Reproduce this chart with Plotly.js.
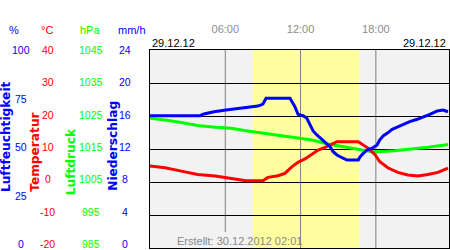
<!DOCTYPE html>
<html>
<head>
<meta charset="utf-8">
<script src="https://cdn.plot.ly/plotly-3.0.1.min.js"></script>
<style>html,body{margin:0;padding:0;background:#fff;}#chart{width:450px;height:250px;}</style>
</head>
<body>
<div id="chart"></div>
<script>
// ---- data (hours of 29.12.12) ----
var humHours = [0,3.98,4.3,5.1,6.06,7.17,7.97,8.6,9.0,9.25,11.16,11.3,11.55,11.8,12.2,12.5,12.75,13.0,13.3,13.55,13.95,14.35,14.6,14.9,15.3,15.7,16.6,16.75,17.0,17.3,17.7,18.1,18.3,18.6,18.9,19.3,19.7,20.2,20.7,21.3,21.75,22.3,22.9,23.35,23.75];
var humidity = [66.8,66.8,67.7,68.8,69.7,70.6,71.4,71.7,72.7,75.6,75.6,74.2,71.4,67.5,66.8,65.5,62.1,59.1,57.1,55.7,53.4,51.2,48.6,47.0,45.6,44.4,44.4,46.1,47.8,49.5,50.4,52.0,54.5,56.7,57.9,59.9,61.0,62.5,63.8,65.0,66.3,67.5,69.2,69.7,68.8];

var presHours = [0,1.2,2.5,3.8,5.2,6.45,7.65,8.9,10.2,11.55,12.9,14.2,15.55,16.9,17.7,18.2,19.5,20.9,22.15,23.5,23.75];
var pressure = [1024.3,1023.8,1023.0,1022.1,1021.6,1021.3,1020.5,1019.8,1019.2,1018.4,1017.7,1016.5,1015.5,1014.7,1014.2,1014.2,1014.5,1015.0,1015.5,1016.2,1016.4];

var tempHours = [0,1.2,2.5,3.8,5.2,6.45,7.65,9.0,9.4,10.2,10.75,11.3,11.8,12.35,12.9,13.4,13.95,14.5,14.9,16.6,17.0,17.4,17.95,18.3,18.95,19.75,20.55,21.35,22.15,22.95,23.75];
var temperature = [4.85,4.3,3.3,2.3,1.8,1.1,0.4,0.4,1.4,1.9,2.6,4.6,6.0,7.0,8.5,9.7,10.5,11.4,12.2,12.2,11.2,10.2,8.2,6.2,4.3,2.9,2.1,1.8,2.3,2.9,4.2];

var daylight = [8.2, 16.7];
var xTickVals = [6, 12, 18];
var xTickText = ['06:00', '12:00', '18:00'];
var humTicks = [0, 25, 50, 75, 100];
var tempTicks = [-20, -10, 0, 10, 20, 30, 40];
var presTicks = [985, 995, 1005, 1015, 1025, 1035, 1045];
var precTicks = [0, 4, 8, 12, 16, 20, 24];
var dateLeft = '29.12.12', dateRight = '29.12.12';
var created = 'Erstellt: 30.12.2012 02:01';

// ---- layout helpers ----
var W = 449;
function px(x) { return x / W; }
function py(y) { return (248 - y) / 198; }
var FONT = 'Liberation Sans, Arial, sans-serif';
var BLUE = '#0000ff', RED = '#ff0000', GREEN = '#00ff00';

var annotations = [];
function tickCol(vals, yref, xpx, color, lo, hi) {
  vals.forEach(function (v) {
    annotations.push({
      text: String(v), xref: 'paper', yref: yref, x: px(xpx), y: v,
      xanchor: 'center', yanchor: 'middle', showarrow: false,
      yshift: (1 - (v - lo) / (hi - lo)) * 4,
      font: {family: FONT, size: 10.5, color: color}
    });
  });
}
tickCol(presTicks, 'y', 91, GREEN, 985, 1045);
tickCol(tempTicks, 'y2', 47.5, RED, -20, 40);
tickCol(humTicks, 'y3', 20.5, BLUE, 0, 100);
tickCol(precTicks, 'y4', 124.5, BLUE, 0, 24);

function plab(text, xpx, ypx, color, opts) {
  var a = {text: text, xref: 'paper', yref: 'paper', x: px(xpx), y: py(ypx),
    xanchor: 'center', yanchor: 'middle', showarrow: false,
    font: {family: FONT, size: 11, color: color}};
  for (var k in opts) a[k] = opts[k];
  annotations.push(a);
}
plab('%', 14, 30, BLUE, {});
plab('°C', 47, 30, RED, {});
plab('hPa', 90, 30, GREEN, {});
plab('mm/h', 132, 30, BLUE, {});
var TF = {family: 'DejaVu Sans, sans-serif', size: 12.2};
plab('<b>Luftfeuchtigkeit</b>', 5.6, 136.5, BLUE, {textangle: -90, font: Object.assign({}, TF, {color: BLUE})});
plab('<b>Temperatur</b>', 34.8, 152, RED, {textangle: -90, font: Object.assign({}, TF, {color: RED})});
plab('<b>Luftdruck</b>', 71.2, 162, GREEN, {textangle: -90, font: Object.assign({}, TF, {color: GREEN})});
plab('<b>Niederschlag</b>', 112.8, 146, BLUE, {textangle: -90, font: Object.assign({}, TF, {color: BLUE})});
plab(dateLeft, 150, 43, '#000', {xanchor: 'left', x: px(149.5)});
plab(dateRight, 447, 43, '#000', {xanchor: 'right', x: px(447.5)});
plab(created, 175, 241, '#888888', {xanchor: 'left', x: px(174.5)});

var traces = [
  {x: presHours, y: pressure, yaxis: 'y', mode: 'lines', line: {color: GREEN, width: 3}, hoverinfo: 'skip'},
  {x: tempHours, y: temperature, yaxis: 'y2', mode: 'lines', line: {color: RED, width: 3}, hoverinfo: 'skip'},
  {x: humHours, y: humidity, yaxis: 'y3', mode: 'lines', line: {color: BLUE, width: 3}, hoverinfo: 'skip'}
];

// vertical hour lines (the 06:00 one stops above the "Erstellt" note)
var shapes = [{type: 'rect', xref: 'x', yref: 'paper', x0: daylight[0], x1: daylight[1], y0: 0, y1: 1,
  fillcolor: '#ffffa0', line: {width: 0}, layer: 'below'}];
xTickVals.forEach(function (t, i) {
  shapes.push({type: 'line', xref: 'x', yref: 'paper', x0: t, x1: t, y0: i === 0 ? py(232) : 0, y1: 1,
    line: {color: '#808080', width: 1}, layer: 'below'});
});

var hidden = {overlaying: 'y', showgrid: false, zeroline: false, showticklabels: false, ticks: '', showline: false};
var layout = {
  width: 450, height: 250,
  margin: {l: 0, r: 1, t: 50, b: 2, pad: 0},
  paper_bgcolor: '#ffffff', plot_bgcolor: '#f2f2f2',
  showlegend: false,
  xaxis: {domain: [150 / W, 1], range: [0, 23.83], side: 'top',
    tickvals: xTickVals, ticktext: xTickText, ticks: '', ticklabelstandoff: 12,
    tickfont: {family: FONT, size: 11, color: '#8c8c8c'},
    showgrid: false, zeroline: false,
    showline: true, mirror: true, linecolor: '#000', linewidth: 1},
  yaxis: {range: [985, 1045], dtick: 10, tick0: 985, showticklabels: false, ticks: '',
    showgrid: true, gridcolor: '#000', gridwidth: 1, zeroline: false,
    showline: true, mirror: true, linecolor: '#000', linewidth: 1},
  yaxis2: Object.assign({range: [-20, 40]}, hidden),
  yaxis3: Object.assign({range: [0, 100]}, hidden),
  yaxis4: Object.assign({range: [0, 24]}, hidden),
  shapes: shapes,
  annotations: annotations
};

Plotly.newPlot('chart', traces, layout, {staticPlot: true, displayModeBar: false});
</script>
</body>
</html>
